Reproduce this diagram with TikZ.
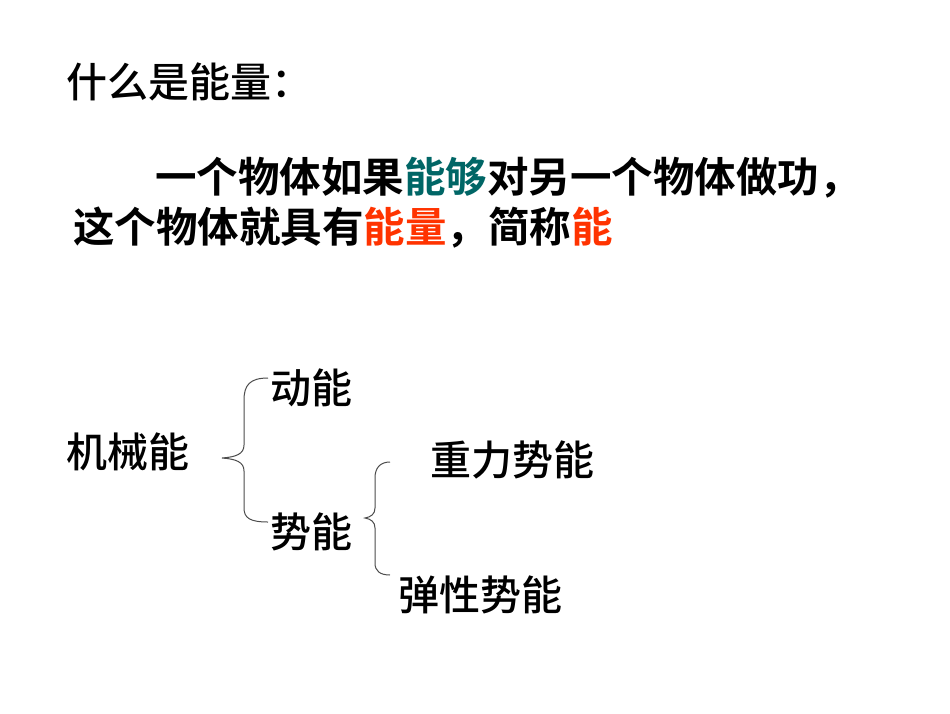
\documentclass[tikz,border=0pt]{standalone}
\usepackage{fontspec}
\newfontfamily\cjk{Noto Sans CJK SC Medium}
\newfontfamily\cjkb{Noto Sans CJK SC Bold}
\definecolor{teal1}{RGB}{0,102,102}
\definecolor{red1}{RGB}{255,51,0}
\begin{document}
\begin{tikzpicture}[x=1pt,y=-1pt,
  txt/.style={anchor=west,inner sep=0pt,font=\cjk\fontsize{41}{48}\selectfont},
  btxt/.style={anchor=west,inner sep=0pt,font=\cjkb\fontsize{41.5}{48}\selectfont},
  brace/.style={draw=black!70,line width=1pt}]
\useasboundingbox[fill=white] (0,0) rectangle (950,713);
\node[txt] (title) at (66,82) {什么是能量：};
\node[btxt] (l1) at (155,178) {一个物体如果\textcolor{teal1}{能够}对另一个物体做功，};
\node[btxt] (l2) at (73,228) {这个物体就具有\textcolor{red1}{能量}，简称\textcolor{red1}{能}};
\node[txt] (jx) at (66,452) {机械能};
\node[txt] (dn) at (270,388) {动能};
\node[txt] (sn) at (270,532) {势能};
\node[txt] (zl) at (430,460) {重力势能};
\node[txt] (tx) at (398,595) {弹性势能};
\draw[brace] (268,378) .. controls (250,378) and (244,385) .. (244,400) -- (244,445) .. controls (244,454) and (236,457) .. (222,458) .. controls (236,459) and (244,462) .. (244,471) -- (244,508) .. controls (244,518) and (250,522) .. (268,522);
\draw[brace] (390,462) .. controls (380,462) and (375,468) .. (375,478) -- (375,508) .. controls (375,514) and (371,517) .. (365,518) .. controls (371,519) and (375,522) .. (375,528) -- (375,563) .. controls (375,571) and (380,575) .. (390,575);
\end{tikzpicture}
\end{document}
